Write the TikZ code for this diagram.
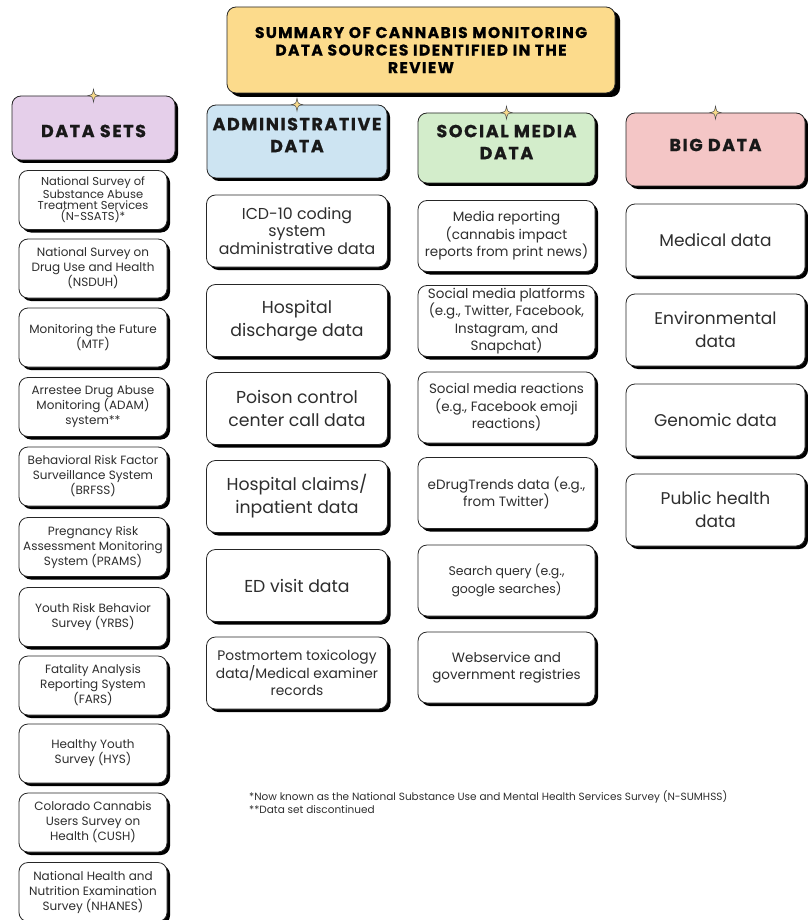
\documentclass[tikz,border=0pt]{standalone}
\usepackage{fontspec}
\setmainfont{Poppins}
\newfontfamily\capsfont[LetterSpace=9, BoldFeatures={FakeBold=0.8}]{Poppins}
\usetikzlibrary{shadows}
\definecolor{TitleGold}{HTML}{FCDB8C}
\definecolor{SetsLilac}{HTML}{E5CFEA}
\definecolor{AdminBlue}{HTML}{CDE4F2}
\definecolor{SocialGreen}{HTML}{D3EDCB}
\definecolor{BigPink}{HTML}{F4C6C6}
\definecolor{StarGold}{HTML}{F7D98A}
\definecolor{InkGray}{HTML}{2E2E2E}

\begin{document}
\begin{tikzpicture}[
    x=1pt, y=-1pt,
    sbox/.style={
        draw=black!85,
        line width=0.8pt,
        rounded corners=9pt,
        align=center,
        fill=white,
        inner sep=1pt,
        drop shadow={shadow xshift=3pt, shadow yshift=-3pt, opacity=1, fill=black}
    },
    titlebox/.style={
        sbox,
        fill=TitleGold,
        minimum width=388pt,
        minimum height=86pt,
        font=\capsfont\bfseries\fontsize{15.5}{17.5}\selectfont,
        drop shadow={shadow xshift=5pt, shadow yshift=-4pt, opacity=1, fill=black}
    },
    hdr/.style={
        sbox,
        font=\capsfont\bfseries\fontsize{17.5}{22}\selectfont,
        text=black!90
    },
    setbox/.style={
        sbox,
        minimum width=148pt,
        minimum height=59pt,
        text=InkGray,
        font=\fontsize{12}{15}\selectfont
    },
    admbox/.style={
        sbox,
        minimum width=181pt,
        minimum height=72pt,
        text=InkGray,
        font=\fontsize{17.3}{23}\selectfont
    },
    socbox/.style={
        sbox,
        minimum width=177pt,
        minimum height=71pt,
        text=InkGray,
        font=\fontsize{13.5}{17.5}\selectfont
    },
    bigbox/.style={
        sbox,
        minimum width=179pt,
        minimum height=72pt,
        text=InkGray,
        font=\fontsize{17}{23}\selectfont
    },
    sparkle/.pic={
        \draw[draw=black!70, fill=StarGold, line width=0.5pt]
            (0,-6.5) .. controls (1,-1) .. (5.5,0) .. controls (1,1) .. (0,6.5)
            .. controls (-1,1) .. (-5.5,0) .. controls (-1,-1) .. cycle;
    }
]
\useasboundingbox (0,0) rectangle (807,920);

% title
\node[titlebox] (title) at (421,50) {SUMMARY OF CANNABIS MONITORING\\DATA SOURCES IDENTIFIED IN THE\\REVIEW};

% column headers
\node[hdr, fill=SetsLilac, minimum width=163pt, minimum height=64pt,
      text height=18.3pt, text depth=0pt] (sets) at (93.5,128) {DATA SETS};
\node[hdr, fill=AdminBlue, minimum width=180pt, minimum height=73pt,
      text depth=13pt] (admin) at (297,141.5) {ADMINISTRATIVE\\DATA};
\node[hdr, fill=SocialGreen, minimum width=177pt, minimum height=70pt,
      text depth=12pt] (social) at (506.5,148) {SOCIAL MEDIA\\DATA};
\node[hdr, fill=BigPink, minimum width=179pt, minimum height=73pt,
      text height=8pt, text depth=4.7pt] (big) at (715.5,149.5) {BIG DATA};

\pic at (sets.north) {sparkle};
\pic at (admin.north) {sparkle};
\pic at (social.north) {sparkle};
\pic at (big.north) {sparkle};

% data sets
\node[setbox, font=\fontsize{11.5}{10.8}\selectfont] (nssats) at (93,200) {National Survey of\\Substance Abuse\\Treatment Services\\(N-SSATS)*};
\node[setbox] (nsduh) at (93,268.5) {National Survey on\\Drug Use and Health\\(NSDUH)};
\node[setbox] (mtf) at (93,337.5) {Monitoring the Future\\(MTF)};
\node[setbox] (adam) at (93,407) {Arrestee Drug Abuse\\Monitoring (ADAM)\\system**};
\node[setbox] (brfss) at (93,476.5) {Behavioral Risk Factor\\Surveillance System\\(BRFSS)};
\node[setbox] (prams) at (93,547) {Pregnancy Risk\\Assessment Monitoring\\System (PRAMS)};
\node[setbox] (yrbs) at (93,617) {Youth Risk Behavior\\Survey (YRBS)};
\node[setbox] (fars) at (93,685.5) {Fatality Analysis\\Reporting System\\(FARS)};
\node[setbox] (hys) at (93,753.5) {Healthy Youth\\Survey (HYS)};
\node[setbox] (cush) at (93,822.5) {Colorado Cannabis\\Users Survey on\\Health (CUSH)};
\node[setbox] (nhanes) at (93,892) {National Health and\\Nutrition Examination\\Survey (NHANES)};

% administrative data
\node[admbox, font=\fontsize{15.8}{17.5}\selectfont] (icd) at (297,231) {ICD-10 coding\\system\\administrative data};
\node[admbox] (discharge) at (297,320.5) {Hospital\\discharge data};
\node[admbox] (poison) at (297,408.5) {Poison control\\center call data};
\node[admbox] (claims) at (297,496.5) {Hospital claims/\\inpatient data};
\node[admbox] (edvisit) at (297,585.5) {ED visit data};
\node[admbox, font=\fontsize{13.8}{17.5}\selectfont] (postmortem) at (297,673) {Postmortem toxicology\\data/Medical examiner\\records};

% social media data
\node[socbox] (media) at (506.5,236) {Media reporting\\(cannabis impact\\reports from print news)};
\node[socbox] (platforms) at (506.5,321) {Social media platforms\\(e.g., Twitter, Facebook,\\Instagram, and\\Snapchat)};
\node[socbox] (reactions) at (506.5,407.5) {Social media reactions\\(e.g., Facebook emoji\\reactions)};
\node[socbox] (edrug) at (506.5,493) {eDrugTrends data (e.g.,\\from Twitter)};
\node[socbox, font=\fontsize{12.5}{17.5}\selectfont] (search) at (506.5,580.5) {Search query (e.g.,\\google searches)};
\node[socbox] (websvc) at (506.5,667.5) {Webservice and\\government registries};

% big data
\node[bigbox] (medical) at (715.5,240) {Medical data};
\node[bigbox] (environ) at (715.5,330) {Environmental\\data};
\node[bigbox] (genomic) at (715.5,420) {Genomic data};
\node[bigbox] (public) at (715.5,510) {Public health\\data};

% footnotes
\node[anchor=north west, align=left, inner sep=0pt, text=InkGray,
      font=\fontsize{10.5}{13}\selectfont] (notes) at (249,790)
    {*Now known as the National Substance Use and Mental Health Services Survey (N-SUMHSS)\\**Data set discontinued};

\end{tikzpicture}
\end{document}
